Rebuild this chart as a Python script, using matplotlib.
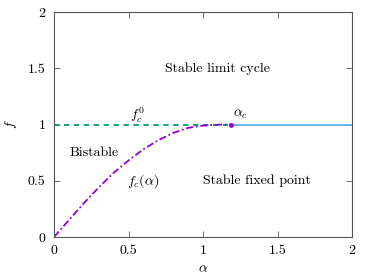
import numpy as np
import matplotlib
matplotlib.use('Agg')
import matplotlib.pyplot as plt

plt.rcParams['mathtext.fontset'] = 'cm'
plt.rcParams['font.family'] = 'serif'
plt.rcParams['font.serif'] = ['cmr10', 'DejaVu Serif']
plt.rcParams['axes.formatter.use_mathtext'] = True

# critical curve f_c(alpha)
alpha_curve = [0.0, 0.1, 0.2, 0.3, 0.4, 0.5, 0.6, 0.7, 0.8, 0.9, 1.0, 1.1, 1.19]
fc_curve = [0.0, 0.15, 0.30, 0.44, 0.57, 0.68, 0.78, 0.86, 0.925, 0.97, 0.99, 0.998, 1.0]

alpha_c = 1.19
fc0 = 1.0

ticks = [0, 0.5, 1, 1.5, 2]
tick_labels = ['0', '0.5', '1', '1.5', '2']

regions = ['Stable limit cycle', 'Bistable', 'Stable fixed point']
region_x = [1.1, 0.27, 1.36]
region_y = [1.5, 0.75, 0.5]


def main():
    fig = plt.figure(figsize=(3.74, 2.8), dpi=100)
    ax = fig.add_axes([54 / 374, 43 / 280, 298 / 374, 225 / 280])

    ax.plot([0, alpha_c], [fc0, fc0], color='#009E73', linestyle=(0, (3, 2.5)), lw=1.3)
    ax.plot([alpha_c, 2], [fc0, fc0], color='#56B4E9', lw=1.3)
    ax.plot(alpha_curve, fc_curve, color='#9400D3', linestyle=(0, (4, 1.5, 1, 1.5)), lw=1.3)
    ax.plot([alpha_c], [fc0], 'o', color='#9400D3', ms=2.5)

    for name, x, y in zip(regions, region_x, region_y):
        ax.text(x, y, name, ha='center', va='center', fontsize=10)
    ax.text(0.6, 0.5, r'$f_c(\alpha)$', ha='center', va='center', fontsize=10)
    ax.text(0.56, 1.08, r'$f_c^0$', ha='center', va='center', fontsize=10)
    ax.text(1.25, 1.09, r'$\alpha_c$', ha='center', va='center', fontsize=10)

    ax.set_xlim(0, 2)
    ax.set_ylim(0, 2)
    ax.set_xticks(ticks)
    ax.set_xticklabels(tick_labels)
    ax.set_yticks(ticks)
    ax.set_yticklabels(tick_labels)
    ax.tick_params(direction='in', top=True, right=True, length=4, width=0.6,
                   labelsize=10, color='#555555', pad=6)
    for s in ax.spines.values():
        s.set_color('#555555')
        s.set_linewidth(0.8)
    ax.set_xlabel(r'$\alpha$', fontsize=10, labelpad=4)
    ax.set_ylabel(r'$f$', fontsize=10, labelpad=6)

    fig.savefig('out.png', dpi=100)


if __name__ == '__main__':
    main()
